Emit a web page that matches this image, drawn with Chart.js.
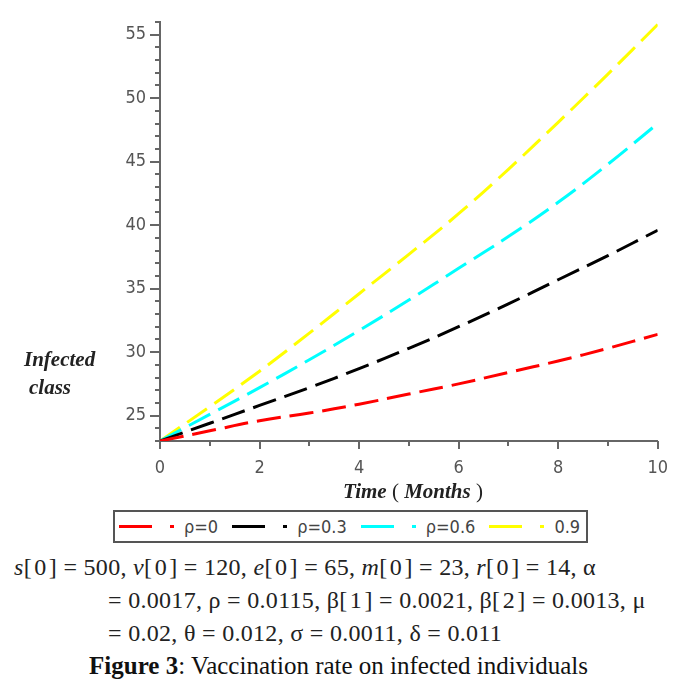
<!DOCTYPE html>
<html lang="en">
<head>
    <meta charset="UTF-8">
    <title>Vaccination rate on infected individuals</title>
    <script src="https://cdn.jsdelivr.net/npm/chart.js"></script>
    <style>
        body {
            margin: 0;
            background: #fff;
            width: 677px;
            height: 684px;
            position: relative;
            overflow: hidden;
        }
        .chart-box {
            position: absolute;
            left: 0;
            top: 0;
            width: 677px;
            height: 490px;
        }
        .ylabel {
            position: absolute;
            left: 24px;
            top: 345px;
            font-family: "Liberation Serif", serif;
            font-weight: bold;
            font-style: italic;
            font-size: 21px;
            line-height: 28px;
            color: #222;
        }
        .ylabel span { display: block; }
        .xlabel {
            position: absolute;
            left: 333px;
            top: 479px;
            width: 160px;
            text-align: center;
            font-family: "Liberation Serif", serif;
            font-weight: bold;
            font-style: italic;
            font-size: 21px;
            color: #222;
        }
        .xlabel span { font-weight: normal; font-style: normal; }
        .legend {
            position: absolute;
            left: 113px;
            top: 510px;
            width: 467px;
            height: 29px;
            border: 2px solid #555;
            display: flex;
            align-items: center;
            padding-left: 4px;
            font-family: "Liberation Sans Narrow", "DejaVu Sans Condensed", sans-serif;
            font-size: 18px;
            color: #444;
        }
        .item { display: flex; align-items: center; margin-right: 14px; }
        .swatch { width: 33px; height: 3px; }
        .dot { width: 4px; height: 3px; margin-left: 18px; margin-right: 10px; }
        .params {
            position: absolute;
            left: 0;
            top: 551px;
            width: 677px;
            font-family: "Liberation Serif", serif;
            font-size: 24px;
            letter-spacing: 0.3px;
            line-height: 33px;
            color: #222;
        }
        .params div { white-space: nowrap; }
        .caption {
            position: absolute;
            left: 0;
            top: 652px;
            width: 677px;
            text-align: center;
            font-family: "Liberation Serif", serif;
            font-size: 25px;
            color: #111;
        }
    </style>
</head>
<body>
    <div class="chart-box"><canvas id="grafica" width="677" height="490"></canvas></div>
    <div class="ylabel"><span>Infected</span><span style="padding-left:5px">class</span></div>
    <div class="xlabel">Time<span> ( </span>Months<span> )</span></div>
    <div class="legend" id="leyenda"></div>
    <div class="params">
        <div style="padding-left:14px"><i>s</i>[&#8202;0&#8202;] = 500, <i>v</i>[&#8202;0&#8202;] = 120, <i>e</i>[&#8202;0&#8202;] = 65, <i>m</i>[&#8202;0&#8202;] = 23, <i>r</i>[&#8202;0&#8202;] = 14, α</div>
        <div style="padding-left:108px">= 0.0017, ρ = 0.0115, β[&#8202;1&#8202;] = 0.0021, β[&#8202;2&#8202;] = 0.0013, μ</div>
        <div style="padding-left:108px">= 0.02, θ = 0.012, σ = 0.0011, δ = 0.011</div>
    </div>
    <div class="caption"><b>Figure 3</b>: Vaccination rate on infected individuals</div>

    <script>
        // time in months
        const meses = [0, 1, 2, 3, 4, 5, 6, 7, 8, 9, 10];

        // infected class for each vaccination rate
        const rho0 = [23, 23.8, 24.6, 25.2, 25.9, 26.7, 27.5, 28.4, 29.3, 30.3, 31.4];
        const rho03 = [23, 24.4, 25.8, 27.2, 28.7, 30.3, 32.0, 33.8, 35.7, 37.6, 39.6];
        const rho06 = [23, 25.1, 27.2, 29.4, 31.7, 34.1, 36.6, 39.1, 41.8, 44.8, 48.0];
        const rho09 = [23, 25.7, 28.5, 31.5, 34.6, 37.7, 40.9, 44.4, 48.1, 51.9, 55.8];

        const etiquetas = ['ρ=0', 'ρ=0.3', 'ρ=0.6', '0.9'];
        const colores = ['#ff0000', '#000000', '#00ffff', '#ffff00'];
        const series = [rho0, rho03, rho06, rho09];

        const xTicks = [0, 2, 4, 6, 8, 10];
        const yTicks = [25, 30, 35, 40, 45, 50, 55];

        // minor/major tick marks drawn by hand (Maple style)
        const marcas = {
            id: 'marcas',
            afterDraw(chart) {
                const c = chart.ctx;
                const xs = chart.scales.x, ys = chart.scales.y;
                c.save();
                c.strokeStyle = '#666';
                c.lineWidth = 2;
                ys.ticks.forEach(t => {
                    const y = Math.round(ys.getPixelForValue(t.value));
                    const len = yTicks.includes(t.value) ? 10 : 5;
                    c.beginPath();
                    c.moveTo(ys.right - len, y);
                    c.lineTo(ys.right, y);
                    c.stroke();
                });
                xs.ticks.forEach(t => {
                    const x = Math.round(xs.getPixelForValue(t.value));
                    const len = xTicks.includes(t.value) ? 8 : 5;
                    c.beginPath();
                    c.moveTo(x, xs.top);
                    c.lineTo(x, xs.top + len);
                    c.stroke();
                });
                c.restore();
            }
        };

        const tickFont = { family: '"Liberation Sans Narrow", "DejaVu Sans Condensed", sans-serif', size: 18 };

        const ctx = document.getElementById('grafica').getContext('2d');
        const chart = new Chart(ctx, {
            type: 'line',
            data: {
                datasets: series.map((s, i) => ({
                    label: etiquetas[i],
                    data: meses.map((m, j) => ({ x: m, y: s[j] })),
                    borderColor: colores[i],
                    borderWidth: 3,
                    borderDash: [24, 9],
                    pointRadius: 0,
                    tension: 0.4,
                    fill: false
                }))
            },
            options: {
                responsive: false,
                animation: false,
                layout: { padding: { left: 0, right: 9, top: 22, bottom: 9 } },
                plugins: {
                    legend: { display: false },
                    tooltip: { enabled: false }
                },
                scales: {
                    x: {
                        type: 'linear',
                        min: 0,
                        max: 10,
                        afterFit: s => { s.height = 40; },
                        ticks: {
                            stepSize: 1,
                            autoSkip: false,
                            padding: 9,
                            color: '#555',
                            font: tickFont,
                            maxRotation: 0,
                            callback: v => xTicks.includes(v) ? v : ''
                        },
                        grid: { display: true, drawOnChartArea: false, tickLength: 8, tickColor: 'transparent' },
                        border: { display: true, color: '#666', width: 2 }
                    },
                    y: {
                        min: 23,
                        max: 56,
                        afterFit: s => { s.width = 160; },
                        ticks: {
                            stepSize: 1,
                            autoSkip: false,
                            padding: 4,
                            color: '#555',
                            font: tickFont,
                            callback: v => yTicks.includes(v) ? v : ''
                        },
                        grid: { display: true, drawOnChartArea: false, tickLength: 10, tickColor: 'transparent' },
                        border: { display: true, color: '#666', width: 2 }
                    }
                }
            },
            plugins: [marcas]
        });

        // legend box under the plot
        const leyenda = document.getElementById('leyenda');
        etiquetas.forEach((et, i) => {
            const item = document.createElement('div');
            item.className = 'item';
            item.innerHTML = `<div class="swatch" style="background:${colores[i]}"></div>` +
                `<div class="dot" style="background:${colores[i]}"></div><span>${et}</span>`;
            leyenda.appendChild(item);
        });
    </script>
</body>
</html>
